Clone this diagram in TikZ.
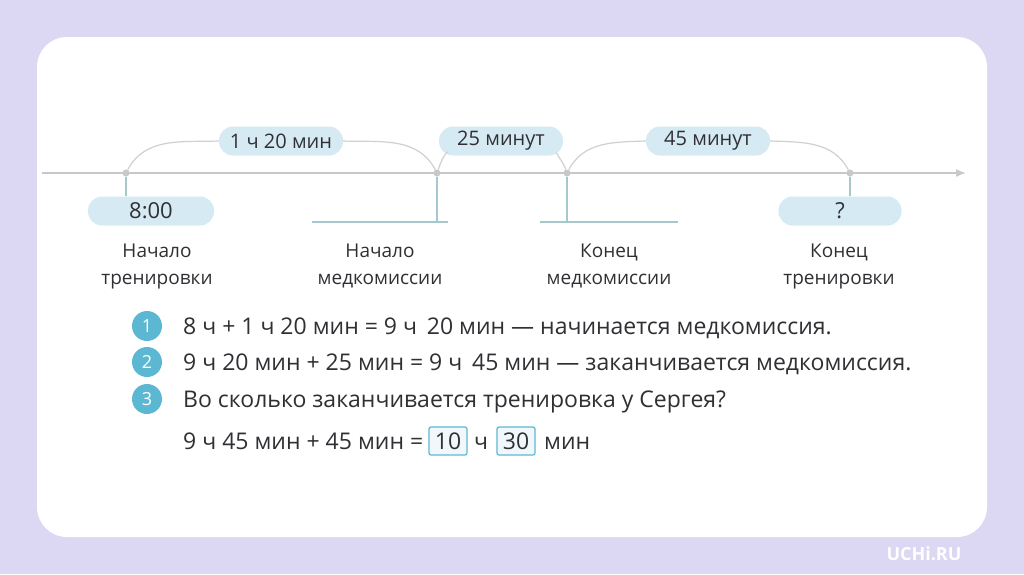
\documentclass[tikz,border=0pt]{standalone}
\usepackage{fontspec}
\setmainfont{Open Sans}
\usetikzlibrary{arrows.meta, calc}

\definecolor{fon}{RGB}{220,216,244}
\definecolor{pillblue}{RGB}{214,234,243}
\definecolor{axisgray}{RGB}{200,200,202}
\definecolor{tickteal}{RGB}{165,200,206}
\definecolor{numblue}{RGB}{92,184,210}
\definecolor{txt}{RGB}{48,48,52}

\begin{document}
\begin{tikzpicture}[x=1pt, y=1pt, >=Latex,
    pill/.style={fill=pillblue, rounded corners=14pt, minimum height=29pt, minimum width=124pt,
        inner sep=0pt, text=txt, font=\fontsize{20}{21}\selectfont},
    dot/.style={circle, fill=axisgray, inner sep=0pt, minimum size=7pt},
    arc/.style={draw=axisgray!85, line width=1.2pt},
    tick/.style={draw=tickteal, line width=1.6pt},
    lbl/.style={align=center, text=txt, font=\fontsize{19}{27}\selectfont},
    num/.style={circle, fill=numblue, text=white, minimum size=30pt, inner sep=0pt,
        font=\fontsize{18}{18}\selectfont},
    row/.style={anchor=base west, inner sep=0pt, text=txt, font=\fontsize{23}{24}\selectfont},
    ans/.style={draw=numblue, fill=pillblue!35, line width=1.2pt, rounded corners=2pt,
        minimum width=38pt, minimum height=28pt, inner sep=0pt, text=txt,
        font=\fontsize{23}{24}\selectfont}]

    % фон и белая карточка
    \useasboundingbox (0,0) rectangle (1024,-574);
    \fill[fon] (0,0) rectangle (1024,-574);
    \fill[white, rounded corners=30pt] (37,-37) rectangle (987,-537);

    % числовой луч
    \coordinate (start) at (42,-173);
    \coordinate (end) at (966,-173);
    \draw[axisgray, line width=1.6pt, -{Latex[length=10pt, width=8pt]}] (start) -- (end);

    \node[dot] (t1) at (126,-173) {};
    \node[dot] (t2) at (437,-173) {};
    \node[dot] (t3) at (567,-173) {};
    \node[dot] (t4) at (850,-173) {};

    % промежутки над лучом
    \node[pill] (d1) at (281,-141) {1 ч 20 мин};
    \node[pill] (d2) at (501,-141) {25 минут};
    \node[pill] (d3) at (708,-141) {45 минут};

    \draw[arc] (t1) to[out=62, in=182] (d1.west);
    \draw[arc] (d1.east) to[out=-2, in=118] (t2);
    \draw[arc] (t2) to[out=70, in=225] ($(d2.south west)+(9,4)$);
    \draw[arc] ($(d2.south east)+(-7,3)$) to[out=-60, in=110] (t3);
    \draw[arc] (t3) to[out=62, in=182] (d3.west);
    \draw[arc] (d3.east) to[out=-2, in=118] (t4);

    % отметки под лучом
    \node[pill, minimum width=126pt, font=\fontsize{22}{23}\selectfont] (p1) at (151,-211) {8:00};
    \node[pill, minimum width=123pt, font=\fontsize{22}{23}\selectfont] (p4) at (840,-211) {?};
    \draw[tick] (t1) -- (t1 |- p1.north);
    \draw[tick] (t4) -- (t4 |- p4.north);

    \coordinate (b2) at (437,-222);
    \coordinate (b2l) at (312,-222);
    \coordinate (b2r) at (448,-222);
    \draw[tick] (t2) -- (b2);
    \draw[tick] (b2l) -- (b2r);

    \coordinate (b3) at (567,-222);
    \coordinate (b3l) at (540,-222);
    \coordinate (b3r) at (678,-222);
    \draw[tick] (t3) -- (b3);
    \draw[tick] (b3l) -- (b3r);

    % подписи
    \node[lbl] (n1) at (157,-266) {Начало\\тренировки};
    \node[lbl] (n2) at (380,-266) {Начало\\медкомиссии};
    \node[lbl] (n3) at (609,-266) {Конец\\медкомиссии};
    \node[lbl] (n4) at (839,-266) {Конец\\тренировки};

    % решение по шагам
    \node[num] (c1) at (147,-326) {1};
    \node[num] (c2) at (147,-362) {2};
    \node[num] (c3) at (147,-399) {3};

    \node[row] (s1) at (183,-334) {8 ч + 1 ч 20 мин = 9 ч\, 20 мин — начинается медкомиссия.};
    \node[row] (s2) at (183,-370) {9 ч 20 мин + 25 мин = 9 ч\, 45 мин — заканчивается медкомиссия.};
    \node[row] (s3) at (183,-407) {Во сколько заканчивается тренировка у Сергея?};
    \node[row] (s4) at (183,-449) {9 ч 45 мин + 45 мин =};

    \node[ans] (a1) at (448,-441) {10};
    \node[row] (h4) at (474,-449) {ч};
    \node[ans] (a2) at (516,-441) {30};
    \node[row] (m4) at (544,-449) {мин};

    % логотип
    \node[text=white, font=\bfseries\fontsize{18}{18}\selectfont] (logo) at (924,-554) {UCHi.RU};

\end{tikzpicture}
\end{document}
